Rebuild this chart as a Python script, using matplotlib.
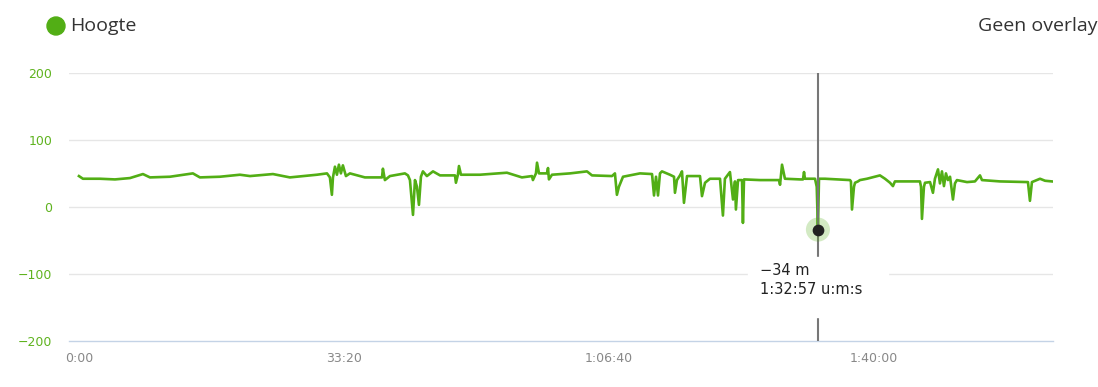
import numpy as np
import matplotlib.pyplot as plt
from matplotlib.patches import Ellipse
from matplotlib.ticker import FuncFormatter, FixedLocator

# elevation profile (time in seconds, height in m)
time_s = [0, 30, 158, 272, 385, 483, 536, 687, 860, 913, 1064, 1215, 1291, 1464, 1592,
          1796, 1872, 1894, 1909, 1917, 1932, 1947, 1962, 1977, 1992, 2015, 2045, 2158,
          2287, 2294, 2309, 2347, 2460, 2483, 2498, 2521, 2536, 2551, 2566, 2581, 2596,
          2626, 2672, 2725, 2838, 2845, 2860, 2868, 2883, 3026, 3230, 3343, 3419, 3426,
          3449, 3457, 3472, 3532, 3540, 3547, 3570, 3706, 3834, 3872, 4023, 4045, 4060,
          4075, 4106, 4234, 4325, 4340, 4355, 4370, 4385, 4400, 4460, 4491, 4498, 4513,
          4536, 4551, 4566, 4589, 4687, 4702, 4725, 4762, 4838, 4860, 4875, 4913, 4936,
          4951, 4958, 4974, 5004, 5011, 5019, 5140, 5283, 5291, 5306, 5328, 5442, 5464,
          5472, 5479, 5555, 5568, 5577, 5585, 5630, 5819, 5826, 5834, 5849, 5857, 5879,
          5894, 5947, 6045, 6083, 6121, 6143, 6158, 6347, 6355, 6362, 6377, 6385, 6423,
          6445, 6460, 6483, 6498, 6513, 6528, 6543, 6558, 6574, 6596, 6611, 6626, 6702,
          6762, 6800, 6815, 6951, 7162, 7177, 7192, 7253, 7291, 7343]
height_m = [46, 42, 42, 41, 43, 49, 44, 45, 50, 44, 45, 48, 46, 49, 44,
            48, 50, 44, 18, 44, 60, 48, 63, 50, 62, 46, 50, 44,
            44, 57, 40, 46, 50, 47, 40, -12, 40, 30, 3, 45, 53,
            46, 53, 47, 47, 36, 48, 61, 48, 48, 51, 44, 46, 40,
            50, 66, 50, 50, 58, 41, 48, 50, 53, 47, 46, 50, 18,
            30, 45, 50, 49, 17, 45, 17, 50, 53, 48, 45, 21, 40,
            47, 53, 6, 46, 46, 16, 36, 42, 42, -13, 42, 52, 11,
            38, -4, 40, 40, -24, 41, 40, 40, 33, 63, 42, 41, 41,
            52, 42, 42, 30, -34, 42, 42, 40, 38, -4, 30, 36, 38,
            40, 42, 47, 42, 36, 31, 38, 38, 30, -18, 30, 36, 37,
            21, 42, 56, 35, 53, 31, 50, 40, 45, 11, 35, 40, 37,
            38, 47, 40, 38, 37, 9, 37, 42, 39, 38]

x_ticks = [0, 2000, 4000, 6000]
y_ticks = [-200, -100, 0, 100, 200]
cursor_t = 5577
cursor_h = -34

green = '#52ae15'


def fmt_time(s, pos=None):
    s = int(round(s))
    h, rem = divmod(s, 3600)
    m, sec = divmod(rem, 60)
    if h:
        return '%d:%02d:%02d' % (h, m, sec)
    return '%d:%02d' % (m, sec)


fig = plt.figure(figsize=(10.98, 3.87), dpi=100)
ax = fig.add_axes([69 / 1098, 1 - 340.7 / 387, (1053 - 69) / 1098, (340.7 - 73) / 387])

ax.plot(time_s, height_m, color=green, lw=1.9, solid_joinstyle='round', zorder=3)

ax.set_xlim(-75, 7351)
ax.set_ylim(-200, 200)
ax.xaxis.set_major_locator(FixedLocator(x_ticks))
ax.xaxis.set_major_formatter(FuncFormatter(fmt_time))
ax.yaxis.set_major_locator(FixedLocator(y_ticks))

for v in y_ticks[1:]:
    ax.axhline(v, color='#e6e6e6', lw=1, zorder=1)
for sp in ['top', 'right', 'left']:
    ax.spines[sp].set_visible(False)
ax.spines['bottom'].set_color('#c4d3e6')
ax.spines['bottom'].set_linewidth(1)

ax.tick_params(axis='both', length=0)
ax.tick_params(axis='y', colors='#5fb31f', labelsize=9, pad=12)
ax.tick_params(axis='x', colors='#888888', labelsize=9, pad=8)

# cursor line + point
ax.axvline(cursor_t, color='#777777', lw=1.5, zorder=4)
ax.scatter([cursor_t], [cursor_h], s=300, color=green, alpha=0.25, edgecolors='none', zorder=5)
ax.scatter([cursor_t], [cursor_h], s=55, color='#222222', zorder=6)

# tooltip box
t0 = (748 - 79) / 0.1325
t1 = (888 - 79) / 0.1325
ax.fill_between([t0, t1], -165, -75, color='white', zorder=7)
ax.text((760 - 79) / 0.1325, -95, '\u221234 m', fontsize=10.5, color='#222222',
        va='center', ha='left', zorder=8)
ax.text((760 - 79) / 0.1325, -124, '1:32:57 u:m:s', fontsize=10.5, color='#222222',
        va='center', ha='left', zorder=8)

# header
fig.patches.append(Ellipse((56 / 1098, 1 - 26 / 387), 18 / 1098, 18 / 387,
                           transform=fig.transFigure, color=green))
fig.text(70 / 1098, 1 - 26 / 387, 'Hoogte', fontsize=14, color='#333333',
         family='Open Sans', va='center', ha='left')
fig.text(1097 / 1098, 1 - 26 / 387, 'Geen overlay', fontsize=14, color='#333333',
         family='Open Sans', va='center', ha='right')

fig.savefig('out.png', dpi=100)
